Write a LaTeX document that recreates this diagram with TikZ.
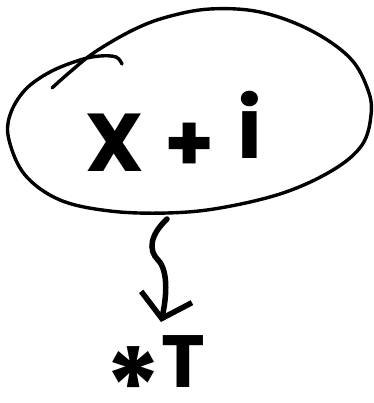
\documentclass[tikz,border=0pt]{standalone}
\usepackage{fontspec}
\newfontfamily\hand{Poppins}
\usetikzlibrary{arrows.meta}
\begin{document}
\begin{tikzpicture}[x=1pt,y=-1pt,line cap=round,line join=round,
  loop/.style={line width=3.4pt},
  squig/.style={line width=5.5pt,-{Straight Barb[length=22pt,width=52pt,line width=5.5pt]}},
  glyph/.style={inner sep=2pt}]
\useasboundingbox (0,0) rectangle (373,403);
\draw[loop] plot[smooth,tension=0.6] coordinates {(52,88) (70,72) (95,52) (133,30) (167,17) (210,9) (260,12) (310,30) (350,58) (368,90) (371,115) (362,145) (333,170) (283,193) (220,208) (167,213) (110,211) (60,200) (25,175) (9,140) (10,115) (25,90) (50,72) (80,60) (100,56) (116,57) (122,64)};
\node[glyph,font=\hand\bfseries\fontsize{82}{82}\selectfont] (x) at (115,143) {X};
\node[glyph,font=\hand\bfseries\fontsize{80}{80}\selectfont] (plus) at (190,147) {+};
\node[glyph,font=\hand\bfseries\fontsize{84}{84}\selectfont] (i) at (250,125) {i};
\coordinate (src) at (167,219);
\coordinate (tip) at (161,322);
\draw[squig] (src) .. controls (150,235) and (148,250) .. (158,260) .. controls (168,270) and (167,295) .. (tip);
\node[inner sep=0pt,anchor=base west,font=\hand\bfseries\fontsize{74}{74}\selectfont] (T) at (104,387) {\raisebox{-39pt}{\fontsize{108}{108}\selectfont *}T};
\end{tikzpicture}
\end{document}
